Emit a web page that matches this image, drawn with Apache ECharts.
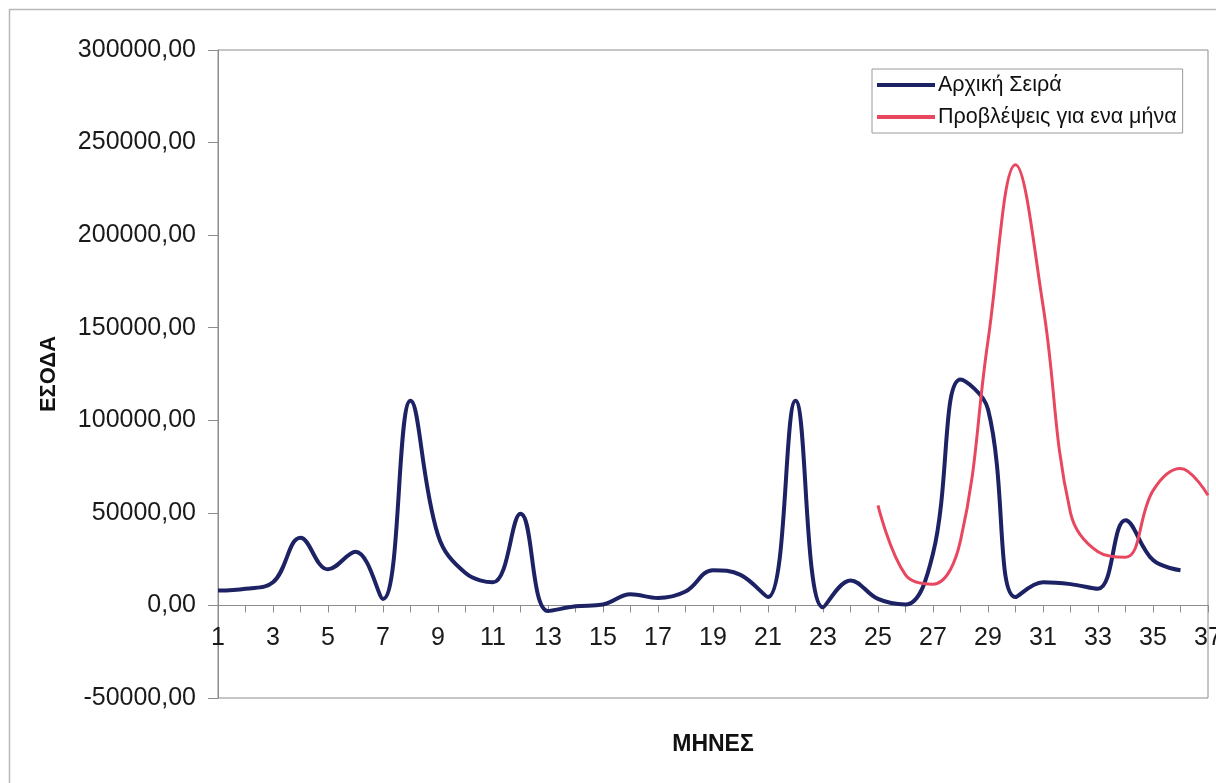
<!DOCTYPE html>
<html>
<head>
<meta charset="utf-8">
<script src="https://cdn.jsdelivr.net/npm/echarts@6/dist/echarts.min.js"></script>
<style>
html,body{margin:0;padding:0;background:#fff;}
#chart{width:1216px;height:783px;}
</style>
</head>
<body>
<div id="chart"></div>
<script>
// Months (x categories)
const months = ["1","2","3","4","5","6","7","8","9","10","11","12","13","14","15","16","17","18","19","20","21","22","23","24","25","26","27","28","29","30","31","32","33","34","35","36","37"];
// Αρχική Σειρά (original series), months 1-36
const originalSeries = [8000, 9000, 12500, 36500, 19500, 29000, 3500, 110500, 38000, 17500, 12500, 49500, -3000, -500, 500, 6000, 4000, 7500, 19000, 16500, 4500, 110500, -1000, 13500, 3500, 500, 28000, 122000, 106000, 4500, 12500, 11500, 9000, 46000, 24500, 19000, null];
// Προβλέψεις για ενα μήνα (one-month forecasts), months 25-37
const forecastSeries = [null, null, null, null, null, null, null, null, null, null, null, null, null, null, null, null, null, null, null, null, null, null, null, null, 54000, 16500, 11500, 35000, 143000, 238000, 162000, 50000, 29000, 26000, 62000, 74000, 59500];
// Y axis ticks
const yMin = -50000, yMax = 300000, yStep = 50000;
const seriesNames = ["Αρχική Σειρά", "Προβλέψεις για ενα μήνα"];
const axisNames = { x: "ΜΗΝΕΣ", y: "ΕΣΟΔΑ" };

const chart = echarts.init(document.getElementById('chart'), null, { renderer: 'canvas' });
const font = '"Liberation Sans", Arial, sans-serif';
const gridTop = 50, gridBottomPx = 698;
// place the category axis on the zero line (distance from grid bottom, via the y scale)
const zeroOffset = (gridBottomPx - gridTop) * (0 - yMin) / (yMax - yMin);
chart.setOption({
  backgroundColor: '#ffffff',
  animation: false,
  graphic: [{
    type: 'rect', left: 7, top: 7, silent: true,
    shape: { width: 1240, height: 800 },
    style: { fill: 'none', stroke: '#b8b8b8', lineWidth: 1.5 }
  }],
  grid: {
    left: 218, right: 8, top: gridTop, bottom: 783 - gridBottomPx,
    outerBoundsMode: 'none', containLabel: false,
    show: true, borderColor: '#8c8c8c', borderWidth: 1, backgroundColor: 'transparent'
  },
  legend: {
    orient: 'vertical', left: 872, top: 69,
    data: seriesNames,
    icon: 'rect', itemWidth: 58, itemHeight: 4, itemGap: 10,
    padding: [5, 6, 5, 5],
    borderColor: '#9a9a9a', borderWidth: 1, backgroundColor: '#fff',
    textStyle: { fontFamily: font, fontSize: 21.5, color: '#111', padding: [0, 0, 0, -2] }
  },
  xAxis: {
    type: 'category', data: months, boundaryGap: false,
    position: 'bottom', offset: -zeroOffset,
    name: axisNames.x, nameLocation: 'middle', nameGap: 128,
    nameTextStyle: { fontFamily: font, fontSize: 23, fontWeight: 'bold', color: '#111' },
    axisLine: { onZero: false, lineStyle: { color: '#8c8c8c', width: 1 } },
    axisTick: { show: true, interval: 0, length: 7, lineStyle: { color: '#8c8c8c' } },
    axisLabel: { interval: 1, margin: 20, fontFamily: font, fontSize: 25, color: '#1a1a1a' },
    splitLine: { show: false }
  },
  yAxis: {
    type: 'value', min: yMin, max: yMax, interval: yStep,
    name: axisNames.y, nameLocation: 'middle', nameRotate: 90, nameGap: 158,
    nameTextStyle: { fontFamily: font, fontSize: 22, fontWeight: 'bold', color: '#111' },
    axisLine: { show: true, lineStyle: { color: '#8c8c8c', width: 1 } },
    axisTick: { show: true, length: 10, lineStyle: { color: '#8c8c8c' } },
    axisLabel: {
      margin: 22, fontFamily: font, fontSize: 25, color: '#1a1a1a',
      formatter: v => v.toFixed(2).replace('.', ',')
    },
    splitLine: { show: false }
  },
  series: [{
    name: seriesNames[0], type: 'line', data: originalSeries,
    smooth: 0.4, symbol: 'none', connectNulls: false,
    lineStyle: { color: '#1c2263', width: 4 }, itemStyle: { color: '#1c2263' }
  }, {
    name: seriesNames[1], type: 'line', data: forecastSeries,
    smooth: 0.4, symbol: 'none', connectNulls: false,
    lineStyle: { color: '#e8485f', width: 3 }, itemStyle: { color: '#e8485f' }
  }]
});
</script>
</body>
</html>
